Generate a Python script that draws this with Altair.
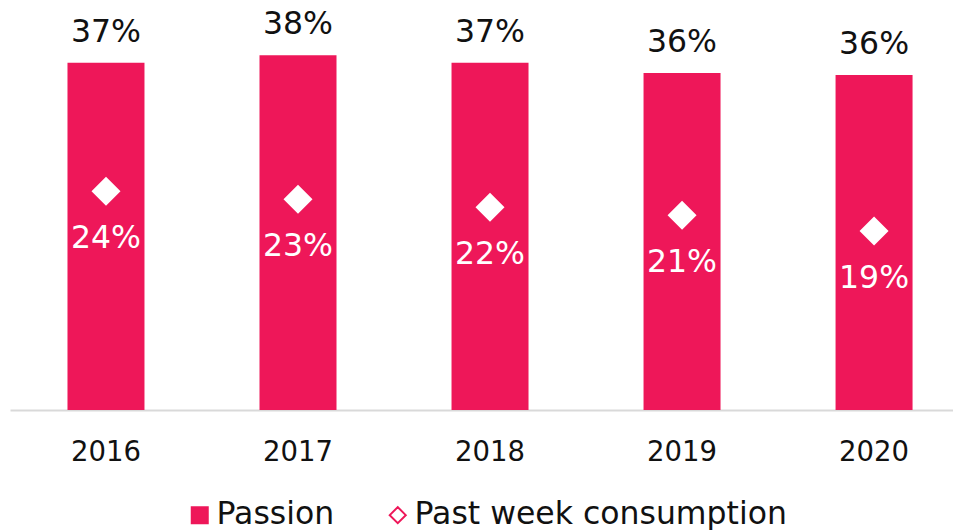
import altair as alt
import pandas as pd

years = ["2016", "2017", "2018", "2019", "2020"]
passion = [0.371, 0.379, 0.371, 0.360, 0.358]
past_week = [0.24, 0.23, 0.22, 0.21, 0.19]
series_names = ["Passion", "Past week consumption"]

PINK = "#EE1759"
FONT = "DejaVu Sans"
INK = "#111111"

df = pd.DataFrame({"year": years, "passion": passion, "past_week": past_week})

x_enc = alt.X(
    "year:N",
    sort=years,
    scale=alt.Scale(paddingInner=0.599, paddingOuter=0.255, align=0.587),
    axis=alt.Axis(
        title=None, labelAngle=0, ticks=False, domainColor="#D9D9D9", domainWidth=2,
        labelFontSize=27.5, labelFont=FONT, labelColor=INK, labelPadding=28,
    ),
)

y_bar = alt.Y("passion:Q", scale=alt.Scale(domain=[0, 0.4295]), axis=None)
y_pt = alt.Y("past_week:Q", scale=alt.Scale(domain=[-0.0348, 0.4702]), axis=None)

leg = alt.Legend(
    title=None, orient="none", direction="horizontal", legendX=174, legendY=491,
    labelFontSize=31.5, labelFont=FONT, labelColor=INK, symbolSize=256,
    symbolStrokeWidth=2, labelOffset=1, columnPadding=47, labelLimit=0,
)
fill_enc = alt.Fill("series:N", scale=alt.Scale(domain=series_names, range=[PINK, "white"]), legend=leg)
stroke_enc = alt.Stroke("series:N", scale=alt.Scale(domain=series_names, range=[PINK, PINK]), legend=leg)
shape_enc = alt.Shape("series:N", scale=alt.Scale(domain=series_names, range=["square", "diamond"]), legend=leg)

base = alt.Chart(df)

bars = base.transform_calculate(series="'Passion'").mark_bar(strokeWidth=0).encode(
    x=x_enc, y=y_bar, fill=fill_enc, stroke=stroke_enc
)
bar_labels = base.mark_text(
    dy=-30, baseline="middle", fontSize=31.5, font=FONT, color=INK
).encode(x=x_enc, y=y_bar, text=alt.Text("passion:Q", format=".0%"))

points = base.transform_calculate(series="'Past week consumption'").mark_point(
    filled=True, size=841, strokeWidth=0, opacity=1
).encode(x=x_enc, y=y_pt, fill=fill_enc, stroke=stroke_enc, shape=shape_enc)
pt_labels = base.mark_text(
    dy=48, baseline="middle", fontSize=31.5, font=FONT, color="white"
).encode(x=x_enc, y=y_pt, text=alt.Text("past_week:Q", format=".0%"))

chart = (
    alt.layer(bars, bar_labels, points, pt_labels)
    .resolve_scale(y="independent")
    .properties(
        width=943, height=402,
        padding={"left": 2, "top": 0, "right": 0, "bottom": 130},
        autosize=alt.AutoSizeParams(type="none"),
    )
    .configure_view(stroke=None)
)

chart.save("out.html", embed_options={"renderer": "svg", "actions": False})
